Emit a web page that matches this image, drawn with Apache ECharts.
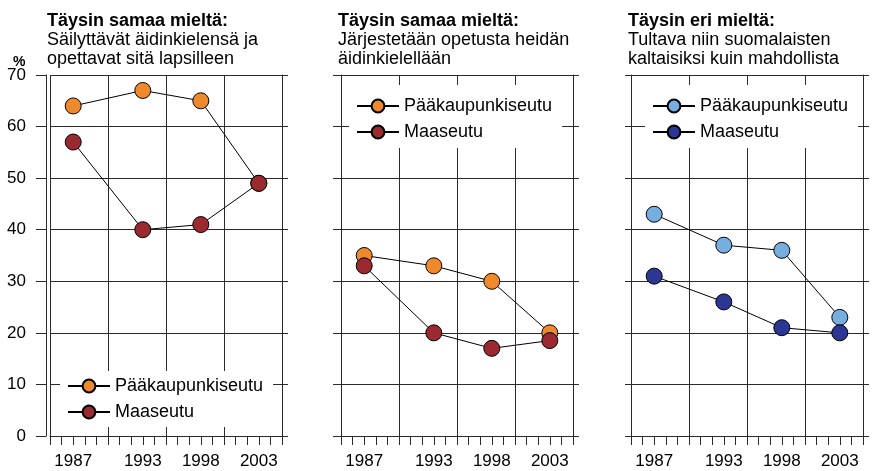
<!DOCTYPE html>
<html>
<head>
<meta charset="utf-8">
<script src="https://cdn.jsdelivr.net/npm/echarts@6/dist/echarts.min.js"></script>
<style>
  html, body { margin: 0; padding: 0; background: #fff; }
  #chart { width: 873px; height: 471px; }
</style>
</head>
<body>
<div id="chart"></div>
<script>
// vuodet ja sarjat
const years = [1987, 1993, 1998, 2003];
const seriesNames = ['Pääkaupunkiseutu', 'Maaseutu'];
const yTicks = [0, 10, 20, 30, 40, 50, 60, 70];

// Säilyttävät äidinkielensä
const keepCapital = [64, 67, 65, 49];
const keepRural = [57, 40, 41, 49];
// Järjestetään opetusta äidinkielellä
const teachCapital = [35, 33, 30, 20];
const teachRural = [33, 20, 17, 18.5];
// Suomalaisten kaltaisiksi
const likeCapital = [43, 37, 36, 23];
const likeRural = [31, 26, 21, 20];

const titles = ['Täysin samaa mieltä:', 'Täysin samaa mieltä:', 'Täysin eri mieltä:'];
const subtitles = [
  'Säilyttävät äidinkielensä ja\nopettavat sitä lapsilleen',
  'Järjestetään opetusta heidän\näidinkielellään',
  'Tultava niin suomalaisten\nkaltaisiksi kuin mahdollista'
];

const panels = [
  { left: 50, values: [keepCapital, keepRural], colors: ['#EF8A2C', '#9B2A30'],
    legend: { left: 60, top: 371, padding: [6, 10, 6, 7] }, yLabels: true, yOffset: 4, tick: 10 },
  { left: 341, values: [teachCapital, teachRural], colors: ['#EF8A2C', '#9B2A30'],
    legend: { left: 349, top: 85, padding: [12, 10, 7, 7] }, yLabels: false, yOffset: 0, tick: 8 },
  { left: 631, values: [likeCapital, likeRural], colors: ['#76AEE0', '#2C3794'],
    legend: { left: 645, top: 85, padding: [12, 10, 7, 7] }, yLabels: false, yOffset: 0, tick: 6 }
];

const lineCol = '#2a2a2a';
const grid = [], xAxis = [], yAxis = [], series = [], legend = [], title = [];

panels.forEach((p, i) => {
  grid.push({ left: p.left, width: 232, top: 75, bottom: 35 });

  xAxis.push({
    type: 'value', gridIndex: i, min: 1985, max: 2005, interval: 1,
    axisLine: { show: true, lineStyle: { color: lineCol, width: 1 } },
    axisTick: { show: true, length: 9, lineStyle: { color: lineCol } },
    axisLabel: {
      margin: 17, fontSize: 17, color: '#000', hideOverlap: false,
      formatter: v => (years.includes(v) ? String(v) : '')
    },
    splitLine: {
      show: true,
      lineStyle: { color: [lineCol, 'rgba(0,0,0,0)', 'rgba(0,0,0,0)', 'rgba(0,0,0,0)', 'rgba(0,0,0,0)'], width: 1 }
    }
  });

  yAxis.push({
    type: 'value', gridIndex: i, position: 'left', offset: p.yOffset,
    min: yTicks[0], max: yTicks[yTicks.length - 1], interval: 10,
    axisLine: { show: true, lineStyle: { color: lineCol } },
    axisTick: { show: true, length: p.tick, lineStyle: { color: lineCol } },
    axisLabel: { show: p.yLabels, margin: 20 - p.tick + 10, fontSize: 17, color: '#000' },
    splitLine: { show: true, lineStyle: { color: lineCol, width: 1 } }
  });
  yAxis.push({
    type: 'value', gridIndex: i, position: 'right',
    min: yTicks[0], max: yTicks[yTicks.length - 1], interval: 10,
    axisLine: { show: true, lineStyle: { color: lineCol } },
    axisTick: { show: true, length: 6, lineStyle: { color: lineCol } },
    axisLabel: { show: false },
    splitLine: { show: false }
  });

  const names = seriesNames.map(n => n + '#' + i);
  names.forEach((name, k) => {
    series.push({
      name: name, type: 'line', xAxisIndex: i, yAxisIndex: i * 2,
      data: years.map((y, j) => [y, p.values[k][j]]),
      symbol: 'circle', symbolSize: 16,
      itemStyle: { color: p.colors[k], borderColor: '#000', borderWidth: 1 },
      lineStyle: { color: '#000', width: 1 },
      emphasis: { disabled: true }
    });
  });

  legend.push({
    data: names, orient: 'vertical', left: p.legend.left, top: p.legend.top,
    padding: p.legend.padding, backgroundColor: '#fff',
    itemWidth: 42, itemHeight: 16, itemGap: 8, selectedMode: false,
    formatter: n => n.split('#')[0],
    textStyle: { fontSize: 18, color: '#000', lineHeight: 16 }
  });

  title.push({
    text: titles[i], subtext: subtitles[i],
    left: p.left - 3, top: 12, padding: 0, itemGap: 0,
    textStyle: { fontSize: 18, fontWeight: 'bold', color: '#000', lineHeight: 19 },
    subtextStyle: { fontSize: 18, color: '#000', lineHeight: 19 }
  });
});

title.push({
  text: '%', left: 13, top: 55, padding: 0,
  textStyle: { fontSize: 14, fontWeight: 'bold', color: '#000' }
});

const myChart = echarts.init(document.getElementById('chart'));
myChart.setOption({
  animation: false,
  textStyle: { fontFamily: '"Liberation Sans", Arial, sans-serif' },
  title: title,
  legend: legend,
  grid: grid,
  xAxis: xAxis,
  yAxis: yAxis,
  series: series
});
</script>
</body>
</html>
